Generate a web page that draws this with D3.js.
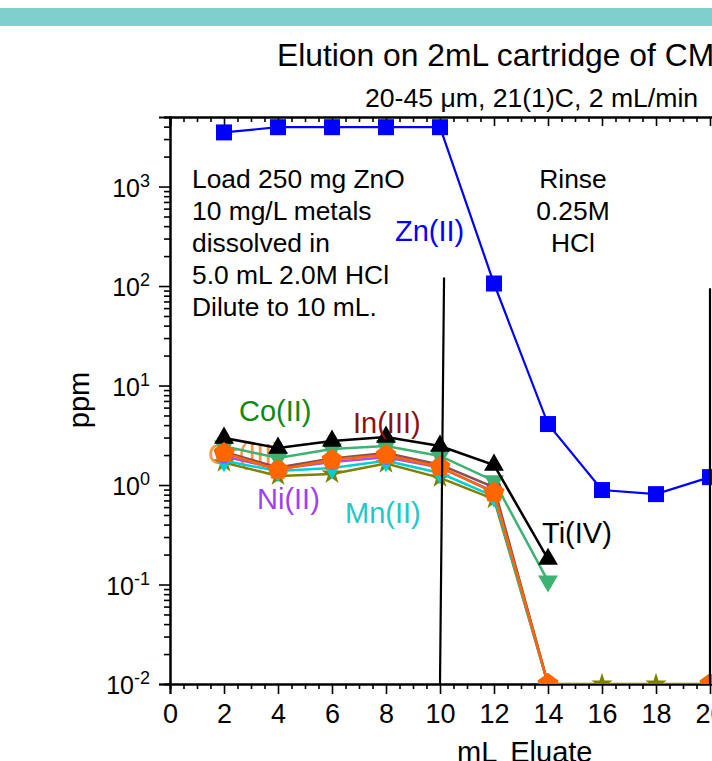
<!DOCTYPE html>
<html><head><meta charset="utf-8">
<script src="https://cdn.jsdelivr.net/npm/d3@7"></script>
<style>
html,body{margin:0;padding:0;background:#fff;overflow:hidden;}
svg{display:block;font-family:"Liberation Sans",Arial,sans-serif;}
</style></head>
<body>
<script>
// ---- data ----
const xVals = [2, 4, 6, 8, 10, 12, 14, 16, 18, 20];
const znVals = [3500, 3950, 3950, 3950, 3950, 106, 4.1, 0.89, 0.81, 1.2];
const tiVals = [2.97, 2.36, 2.77, 3.04, 2.47, 1.59, 0.18];
const coVals = [2.45, 1.87, 2.3, 2.47, 1.96, 1.1, 0.108];
const olVals = [1.68, 1.23, 1.29, 1.64, 1.18, 0.72, 0.01, 0.01, 0.01, 0.01];
const mnVals = [1.75, 1.38, 1.48, 1.75, 1.32, 0.77, 0.01];
const niVals = [1.95, 1.45, 1.7, 1.9, 1.5, 0.86, 0.01, null, null, 0.01];
const inVals = [2.15, 1.5, 1.85, 2.1, 1.6, 0.95, 0.01];
const crVals = [2.1, 1.42, 1.79, 2.0, 1.52, 0.84, 0.01, null, null, 0.01];
const xTicks = [0, 2, 4, 6, 8, 10, 12, 14, 16, 18, 20, 22, 24, 26, 28];
const yTickExp = [-2, -1, 0, 1, 2, 3];
const loadText = ["Load 250 mg ZnO", "10 mg/L metals", "dissolved in", "5.0 mL 2.0M HCl", "Dilute to 10 mL."];
const rinseText = ["Rinse", "0.25M", "HCl"];
// separator lines [x, y] endpoints in data units
const sepLines = [[[10.15, 122], [10.0, 0.01]], [[20.0, 95], [20.0, 0.01]]];

(function () {
const W = 712, H = 761;
const svg = d3.select("body").append("svg").attr("width", W).attr("height", H);

// top band
svg.append("rect").attr("x", 0).attr("y", 8).attr("width", W).attr("height", 18).attr("fill", "#80CFCF");

const pLeft = 170, pTop = 117, pBottom = 684;
const x = d3.scaleLinear().domain([0, 28]).range([pLeft, pLeft + 28 * 27]);
const y = d3.scaleLog().domain([0.01, 5000]).range([pBottom, pTop]);
const pRight = x(28);

// titles
svg.append("text").attr("x", 277).attr("y", 66).attr("font-size", 31.8).attr("fill", "#000")
  .text("Elution on 2mL cartridge of CM");
svg.append("text").attr("x", 365).attr("y", 107).attr("font-size", 26.6).attr("fill", "#000")
  .text("20-45 μm, 21(1)C, 2 mL/min");

// clip
svg.append("clipPath").attr("id", "plotclip").append("rect")
  .attr("x", pLeft).attr("y", pTop).attr("width", pRight - pLeft).attr("height", pBottom - pTop);

// axes
const minorX = d3.range(0, 28.01, 0.5).filter(v => v % 2 !== 0);
const axG = svg.append("g");
axG.append("g").attr("transform", `translate(0,${pBottom})`)
  .call(d3.axisBottom(x).tickValues(minorX).tickSize(5).tickFormat(""));
axG.append("g").attr("transform", `translate(0,${pBottom})`)
  .call(d3.axisBottom(x).tickValues(xTicks).tickSize(10).tickPadding(10).tickFormat(d3.format("d")));
axG.append("g").attr("transform", `translate(0,${pTop})`)
  .call(d3.axisTop(x).tickValues(minorX).tickSize(-5).tickFormat(""));
axG.append("g").attr("transform", `translate(0,${pTop})`)
  .call(d3.axisTop(x).tickValues(xTicks).tickSize(-9).tickFormat(""));

const minorY = [];
yTickExp.forEach(e => { for (let m = 2; m <= 9; m++) { const v = m * Math.pow(10, e); if (v <= 5000) minorY.push(v); } });
axG.append("g").attr("transform", `translate(${pLeft},0)`)
  .call(d3.axisLeft(y).tickValues(minorY).tickSize(6).tickFormat(""));
axG.append("g").attr("transform", `translate(${pLeft},0)`)
  .call(d3.axisLeft(y).tickValues(yTickExp.map(e => Math.pow(10, e))).tickSize(11).tickFormat(""));

axG.selectAll(".domain").attr("stroke", "#000").attr("stroke-width", 2);
axG.selectAll(".tick line").attr("stroke", "#000").attr("stroke-width", 1.6);
axG.selectAll(".tick text").attr("font-size", 27).attr("font-family", "Liberation Sans, Arial, sans-serif").attr("fill", "#000");

// y tick labels with superscripts
yTickExp.forEach(e => {
  const t = svg.append("text").attr("x", 150).attr("y", y(Math.pow(10, e)) + 10)
    .attr("text-anchor", "end").attr("font-size", 25).attr("fill", "#000");
  t.append("tspan").text("10");
  t.append("tspan").attr("font-size", 18).attr("dy", -10).text(String(e));
});

// axis labels
svg.append("text").attr("transform", "translate(89,400) rotate(-90)").attr("text-anchor", "middle")
  .attr("font-size", 29).text("ppm");
svg.append("text").attr("x", 457).attr("y", 762).attr("font-size", 29).attr("word-spacing", 6).text("mL Eluate");

// annotation texts
loadText.forEach((s, i) => svg.append("text").attr("x", 192).attr("y", 188 + 32 * i).attr("font-size", 26.4).text(s));
rinseText.forEach((s, i) => svg.append("text").attr("x", 573).attr("y", 188 + 32 * i).attr("text-anchor", "middle").attr("font-size", 26.4).text(s));

// Cr label under markers
svg.append("text").attr("x", 208).attr("y", 464).attr("font-size", 29).attr("fill", "#F58A3C").attr("opacity", 0.9).text("Cr(III)");

// series
const plot = svg.append("g").attr("clip-path", "url(#plotclip)");
function pentagon(r) {
  const pts = d3.range(5).map(i => { const a = -Math.PI / 2 + i * 2 * Math.PI / 5; return [r * Math.cos(a), r * Math.sin(a)]; });
  return "M" + pts.map(p => p.join(",")).join("L") + "Z";
}
function drawSeries(vals, color, marker, lw) {
  const pts = xVals.map((xv, i) => ({ x: xv, v: vals[i] })).filter(d => d.v !== undefined);
  const line = d3.line().defined(d => d.v != null).x(d => x(d.x)).y(d => y(d.v));
  plot.append("path").datum(pts).attr("d", line).attr("fill", "none").attr("stroke", color).attr("stroke-width", lw);
  plot.selectAll(null).data(pts.filter(d => d.v != null)).enter().append("path")
    .attr("transform", d => `translate(${x(d.x)},${y(d.v)})` + (marker.rot ? " rotate(180)" : ""))
    .attr("d", marker.d).attr("fill", color);
}
const sq = { d: d3.symbol(d3.symbolSquare, 256)() };
const tri = { d: d3.symbol(d3.symbolTriangle, 170)() };
const itri = { d: d3.symbol(d3.symbolTriangle, 170)(), rot: true };
const star = { d: d3.symbol(d3.symbolStar, 140)() };
const circ = { d: d3.symbol(d3.symbolCircle, 180)() };
const diam = { d: d3.symbol(d3.symbolDiamond, 150)() };
const pent = { d: pentagon(11) };

drawSeries(olVals, "#808000", star, 2.5);
drawSeries(mnVals, "#00CED1", diam, 2.5);
drawSeries(niVals, "#A64DFF", circ, 2.5);
drawSeries(inVals, "#8B5050", circ, 2.5);
drawSeries(coVals, "#3CB371", itri, 2.5);
drawSeries(tiVals, "#000000", tri, 2.5);
drawSeries(crVals, "#FF6600", pent, 2.5);
drawSeries(znVals, "#0000FF", sq, 2.2);

// separator lines
sepLines.forEach(l => svg.append("line")
  .attr("x1", x(l[0][0])).attr("y1", y(l[0][1])).attr("x2", x(l[1][0])).attr("y2", y(l[1][1]))
  .attr("stroke", "#000").attr("stroke-width", 2.2));

// series labels
const labels = [
  { t: "Zn(II)", x: 395, y: 241, c: "#0000FF" },
  { t: "Co(II)", x: 239, y: 421, c: "#118811" },
  { t: "In(III)", x: 353, y: 433, c: "#8B1010" },
  { t: "Ni(II)", x: 257, y: 509, c: "#A040F0" },
  { t: "Mn(II)", x: 345, y: 523, c: "#20C8C8" },
  { t: "Ti(IV)", x: 542, y: 543, c: "#000000" }
];
labels.forEach(l => svg.append("text").attr("x", l.x).attr("y", l.y).attr("font-size", 29).attr("fill", l.c).text(l.t));
})();
</script>
</body></html>
